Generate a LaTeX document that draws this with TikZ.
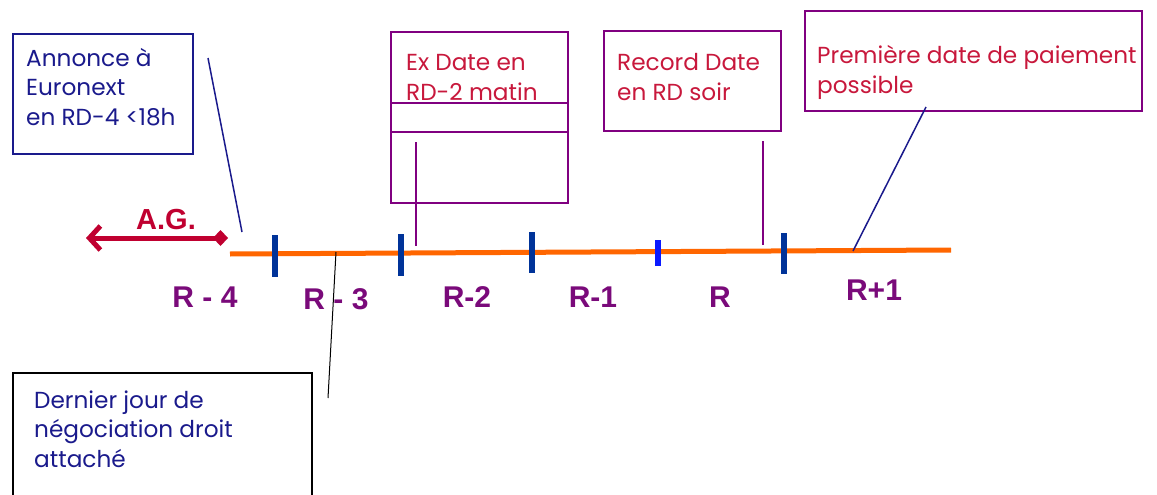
\documentclass[tikz,border=0pt]{standalone}
\usepackage{fontspec}
\setmainfont{Poppins}
\newfontfamily\labfont{Liberation Sans}
\usetikzlibrary{arrows.meta}
\definecolor{navy}{RGB}{26,26,140}
\definecolor{crim}{RGB}{200,24,60}
\definecolor{agred}{RGB}{192,0,48}
\definecolor{purp}{RGB}{128,0,128}
\definecolor{lab}{RGB}{122,10,122}
\definecolor{tickblue}{RGB}{0,51,153}
\definecolor{brightblue}{RGB}{10,26,255}
\definecolor{orng}{RGB}{255,102,0}
\tikzset{
  boxline/.style={line width=2pt},
  bodytext/.style={anchor=base west, align=left, inner sep=0pt, font=\fontsize{23.2}{29.5}\selectfont},
  tlabel/.style={anchor=base, inner sep=0pt, text=lab, font=\labfont\bfseries\fontsize{30}{30}\selectfont},
  tick/.style={line width=5.5pt, tickblue},
  conn/.style={line width=1.5pt}
}
\begin{document}
\begin{tikzpicture}[x=1pt,y=-1pt]
\clip (0,0) rectangle (1157,495);
\fill[white] (0,0) rectangle (1157,495);
% boxes
\draw[boxline, navy] (13,34) rectangle (193,154);
\node[bodytext, text=navy] (annonce) at (26,125) {Annonce à\\Euronext\\en RD-4 <18h};
\draw[boxline, purp] (391,32) rectangle (568,203);
\draw[boxline, purp] (391,103) rectangle (568,132);
\node[bodytext, text=crim] (exdate) at (406,100) {Ex Date en\\RD-2 matin};
\draw[boxline, purp] (604,31) rectangle (781,131);
\node[bodytext, text=crim] (record) at (617,100) {Record Date\\en RD soir};
\draw[boxline, purp] (805,11) rectangle (1142,111);
\node[bodytext, text=crim] (premiere) at (817,93) {Première date de paiement\\possible};
\draw[boxline, black] (13,373) rectangle (312,520);
\node[bodytext, text=navy] (dernier) at (34,467) {Dernier jour de\\négociation droit\\attaché};
% timeline
\coordinate (tl0) at (230,254);
\coordinate (tl1) at (951,250);
\draw[line width=5pt, orng] (tl0) -- (tl1);
% ticks
\coordinate (t1a) at (275,235); \coordinate (t1b) at (275,277);
\coordinate (t2a) at (401,234); \coordinate (t2b) at (401,276);
\coordinate (t3a) at (532,232); \coordinate (t3b) at (532,273);
\coordinate (t4a) at (658,240); \coordinate (t4b) at (658,266);
\coordinate (t5a) at (784,233); \coordinate (t5b) at (784,274);
\draw[tick] (t1a) -- (t1b);
\draw[tick] (t2a) -- (t2b);
\draw[tick] (t3a) -- (t3b);
\draw[tick, brightblue] (t4a) -- (t4b);
\draw[tick] (t5a) -- (t5b);
% labels
\node[tlabel] (r4) at (205,307) {R - 4};
\node[tlabel] (r3) at (336,309) {R - 3};
\node[tlabel] (r2) at (467,307) {R-2};
\node[tlabel] (r1) at (593,307) {R-1};
\node[tlabel] (r0) at (720,307) {R};
\node[tlabel] (rp1) at (874,300) {R+1};
% A.G.
\coordinate (ag0) at (228,238);
\coordinate (ag1) at (86,238);
\draw[line width=5pt, agred, {Straight Barb[length=11pt,width=24pt,line width=5pt]}-{Diamond[length=15pt,width=16pt]}] (ag1) -- (ag0);
\node[anchor=base, inner sep=0pt, text=agred, font=\labfont\bfseries\fontsize{29}{29}\selectfont] (ag) at (166,229) {A.G.};
% connectors
\coordinate (c1a) at (208,58); \coordinate (c1b) at (242,232);
\draw[conn, navy] (c1a) -- (c1b);
\coordinate (c2a) at (416,142); \coordinate (c2b) at (416,246);
\draw[conn, purp] (c2a) -- (c2b);
\coordinate (c3a) at (763,141); \coordinate (c3b) at (763,245);
\draw[conn, purp] (c3a) -- (c3b);
\coordinate (c4a) at (926,107); \coordinate (c4b) at (853,251);
\draw[conn, navy] (c4a) -- (c4b);
\coordinate (c5a) at (336,252); \coordinate (c5b) at (328,398);
\draw[line width=1pt, black] (c5a) -- (c5b);
\end{tikzpicture}
\end{document}
